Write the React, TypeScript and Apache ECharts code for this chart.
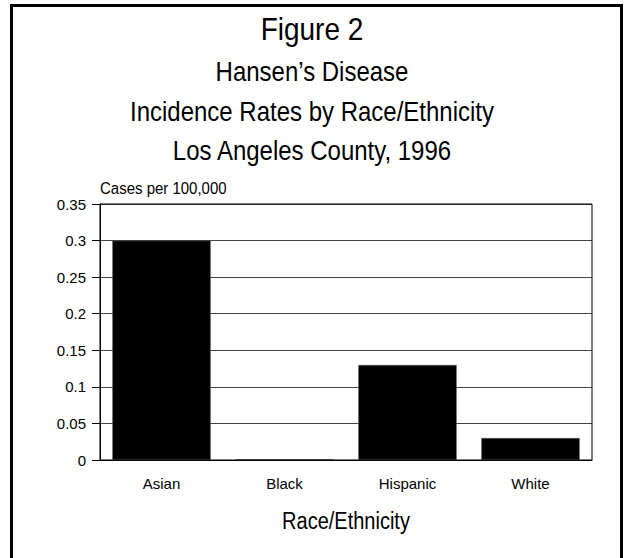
import React, { useEffect, useRef } from "react";
import * as echarts from "echarts";

const categories = ["Asian", "Black", "Hispanic", "White"];
const rates = [0.3, 0.001, 0.13, 0.03];
const yTicks = [0, 0.05, 0.1, 0.15, 0.2, 0.25, 0.3, 0.35];

const FONT = "'Liberation Sans', Arial, sans-serif";

function label(text: string, x: number, y: number, size: number, align: string, sy: number) {
  return {
    type: "text",
    x,
    y,
    scaleY: sy,
    style: { text, font: `${size}px ${FONT}`, fill: "#000", align, verticalAlign: "middle" },
  };
}

export default function App() {
  const ref = useRef<HTMLDivElement>(null);
  useEffect(() => {
    document.body.style.margin = "0";
    const chart = echarts.init(ref.current!, null, { renderer: "svg" });
    chart.setOption({
      animation: false,
      backgroundColor: "#fff",
      textStyle: { fontFamily: FONT, color: "#000" },
      grid: { left: 100, right: 32, top: 204, bottom: 98, containLabel: false },
      graphic: [
        {
          type: "polyline",
          shape: { points: [[11.5, 570], [11.5, 5.5], [621.5, 5.5], [621.5, 570]] },
          style: { stroke: "#000", lineWidth: 3, fill: "none" },
        },
        label("Figure 2", 312, 29, 28, "center", 1.12),
        label("Hansen\u2019s Disease", 312, 71, 24, "center", 1.18),
        label("Incidence Rates by Race/Ethnicity", 312, 111, 24, "center", 1.18),
        label("Los Angeles County, 1996", 312, 150, 24, "center", 1.18),
        label("Cases per 100,000", 100, 188, 15, "left", 1.12),
        label("Race/Ethnicity", 346, 521, 20, "center", 1.15),
        {
          type: "rect",
          shape: { x: 100, y: 204, width: 492, height: 256 },
          style: { stroke: "#000", lineWidth: 1, fill: "none" },
          z: 10,
        },
      ],
      xAxis: {
        type: "category",
        data: categories,
        axisLine: { lineStyle: { color: "#000", width: 1 } },
        axisTick: { alignWithLabel: true, length: 8, lineStyle: { color: "#777" } },
        axisLabel: { fontSize: 15, color: "#000", margin: 16, fontFamily: FONT },
      },
      yAxis: {
        type: "value",
        min: 0,
        max: 0.35,
        interval: 0.05,
        axisLine: { show: true, lineStyle: { color: "#000" } },
        axisTick: { show: true, length: 8, inside: false, lineStyle: { color: "#000" } },
        axisLabel: {
          fontSize: 15,
          color: "#000",
          margin: 14,
          fontFamily: FONT,
          formatter: (v: number) => {
            const t = yTicks.find((x) => Math.abs(x - v) < 1e-9);
            return t === undefined ? "" : String(+t.toFixed(2));
          },
        },
        splitLine: { show: true, lineStyle: { color: "#444", width: 1 } },
      },
      series: [
        {
          type: "bar",
          data: rates,
          barCategoryGap: "20%",
          itemStyle: { color: "#000", borderColor: "#666", borderWidth: 0.5 },
          z: 5,
        },
      ],
    });
    return () => chart.dispose();
  }, []);
  return <div ref={ref} style={{ width: 624, height: 558 }} />;
}
